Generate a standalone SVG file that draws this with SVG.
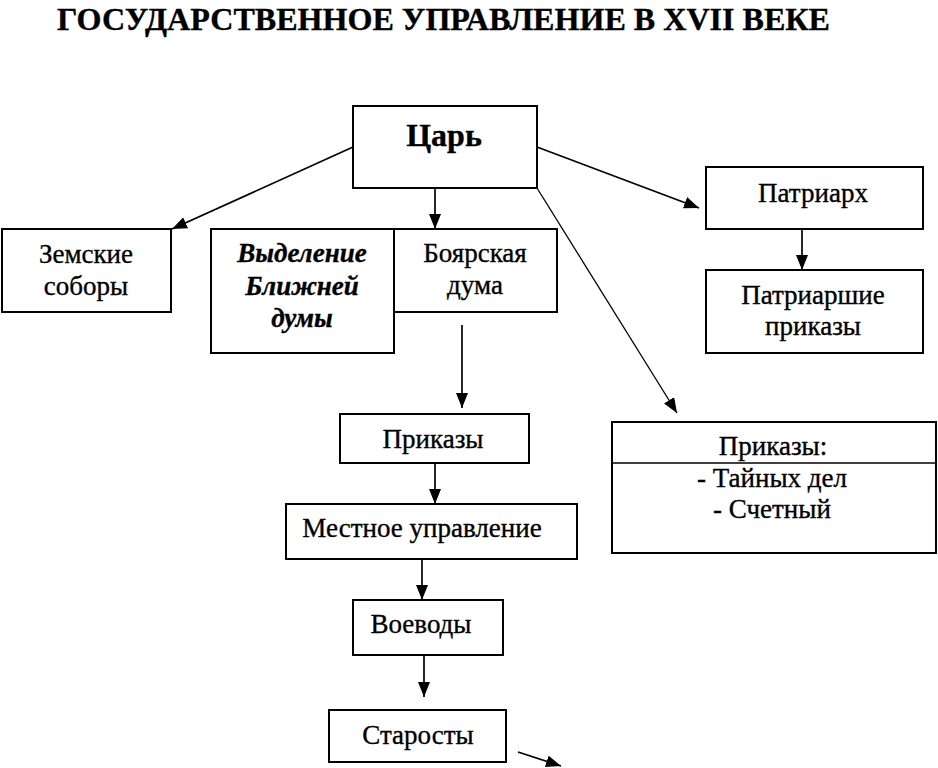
<svg xmlns="http://www.w3.org/2000/svg" width="938" height="768" viewBox="0 0 938 768">
<defs>
<marker id="ah" markerUnits="userSpaceOnUse" markerWidth="16" markerHeight="12" refX="15" refY="6" orient="auto">
<path d="M0,0 L15,6 L0,12 z" fill="#000"/>
</marker>
<style>
.box{fill:#fff;stroke:#000;stroke-width:2}
.t{font-size:27px;fill:#000;text-anchor:middle;stroke:#000;stroke-width:0.35}
.b{font-weight:bold}
.bi{font-weight:bold;font-style:italic}
.c{stroke:#000;stroke-width:1.7;fill:none;marker-end:url(#ah)}
.c1{stroke:#000;stroke-width:1.3;fill:none;marker-end:url(#ah)}
</style>
</defs>
<rect width="938" height="768" fill="#fff"/>
<g font-family="'Liberation Serif', 'DejaVu Serif', serif">
<text x="57" y="30" class="t b" style="text-anchor:start;font-size:32px" textLength="773" lengthAdjust="spacingAndGlyphs">ГОСУДАРСТВЕННОЕ УПРАВЛЕНИЕ В XVII ВЕКЕ</text>

<g id="connectors">
<line class="c" x1="353" y1="147" x2="172" y2="229"/>
<line class="c" x1="435" y1="188" x2="435" y2="229"/>
<line class="c" x1="537" y1="147" x2="699" y2="208"/>
<line class="c1" x1="537" y1="188" x2="677" y2="413"/>
<line class="c" x1="802" y1="229" x2="802" y2="270"/>
<line class="c" x1="462" y1="325" x2="462" y2="408"/>
<line class="c" x1="435" y1="463" x2="435" y2="504"/>
<line class="c" x1="422" y1="559" x2="422" y2="600"/>
<line class="c" x1="424" y1="655" x2="424" y2="697"/>
<line class="c" x1="518" y1="752" x2="561" y2="766"/>
</g>

<g id="tsar">
<rect class="box" x="353" y="106" width="184" height="82"/>
<text class="t b" x="444" y="146" style="font-size:32px">Царь</text>
</g>
<g id="zemskie">
<rect class="box" x="2" y="229" width="169" height="83"/>
<text class="t" x="86" y="263">Земские</text>
<text class="t" x="86" y="295">соборы</text>
</g>
<g id="blizhnyaya">
<rect class="box" x="211" y="229" width="183" height="124"/>
<text class="t bi" x="302" y="262">Выделение</text>
<text class="t bi" x="302" y="295">Ближней</text>
<text class="t bi" x="302" y="327">думы</text>
</g>
<g id="boyarskaya">
<rect class="box" x="394" y="229" width="163" height="83"/>
<text class="t" x="475" y="262">Боярская</text>
<text class="t" x="475" y="294">дума</text>
</g>
<g id="patriarch">
<rect class="box" x="706" y="167" width="217" height="62"/>
<text class="t" x="813" y="202">Патриарх</text>
</g>
<g id="patr-prikazy">
<rect class="box" x="706" y="270" width="217" height="83"/>
<text class="t" x="813" y="304">Патриаршие</text>
<text class="t" x="813" y="335">приказы</text>
</g>
<g id="prikazy-special">
<rect class="box" x="612" y="422" width="324" height="131"/>
<line x1="612" y1="463" x2="936" y2="463" stroke="#000" stroke-width="1.6"/>
<text class="t" x="773" y="455">Приказы:</text>
<text class="t" x="772" y="487">- Тайных дел</text>
<text class="t" x="772" y="518">- Счетный</text>
</g>
<g id="prikazy">
<rect class="box" x="340" y="414" width="189" height="49"/>
<text class="t" x="433" y="448">Приказы</text>
</g>
<g id="mestnoe">
<rect class="box" x="286" y="504" width="291" height="55"/>
<text class="t" x="422" y="537">Местное управление</text>
</g>
<g id="voevody">
<rect class="box" x="353" y="600" width="150" height="55"/>
<text class="t" x="421" y="633">Воеводы</text>
</g>
<g id="starosty">
<rect class="box" x="329" y="710" width="177" height="52"/>
<text class="t" x="418" y="744">Старосты</text>
</g>
</g>
</svg>
